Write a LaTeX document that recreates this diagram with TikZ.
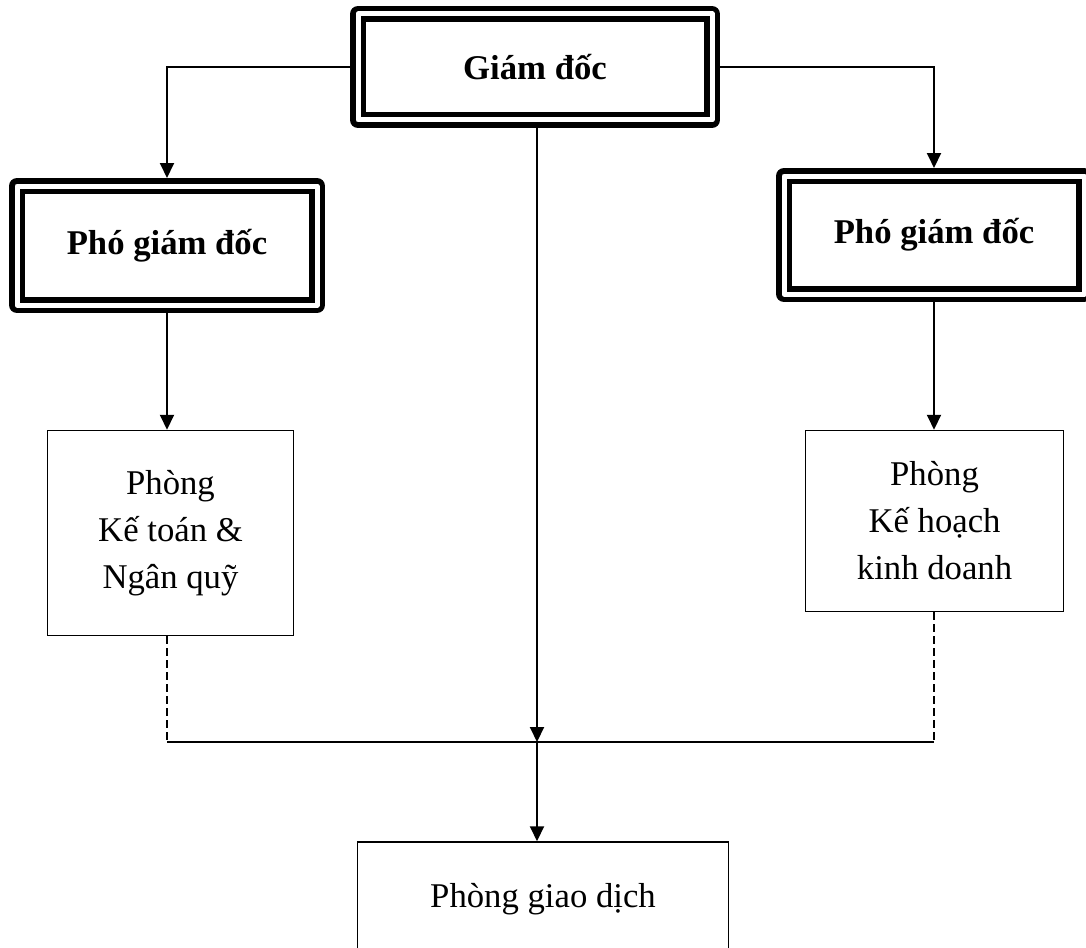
\documentclass[tikz,border=0pt]{standalone}
\usepackage{fontspec}
\setmainfont{Liberation Serif}
\usetikzlibrary{arrows.meta, positioning}

\begin{document}
\begin{tikzpicture}[x=1pt, y=-1pt, >={Triangle[length=15pt, width=14pt]}, line width=2pt, font=\fontsize{34.7}{47}\selectfont]
        \tikzstyle{chief} = [draw, double, double distance=5pt, line width=5.5pt, line join=round, outer sep=8pt, inner sep=0pt, font=\fontsize{34.7}{47}\selectfont\bfseries]
        \tikzstyle{block} = [draw, rectangle, line width=1.5pt, align=center, inner sep=0pt]
        \tikzstyle{link} = [dashed, line width=1.3pt, dash pattern=on 8pt off 4pt]

        \useasboundingbox (0,0) rectangle (1086,947);

        % Ban giam doc
        \node at (535,67) [chief, minimum width=354pt, minimum height=106pt] (gd) {Giám đốc};
        \node at (167,245.5) [chief, minimum width=300pt, minimum height=119pt] (pgd1) {Phó giám đốc};
        \node at (934,235) [chief, minimum width=300pt, minimum height=118pt] (pgd2) {Phó giám đốc};

        % Cac phong
        \node at (170.5,533) [block, minimum width=246pt, minimum height=205pt] (ketoan) {Phòng\\Kế toán \&\\Ngân quỹ};
        \node at (934.5,521) [block, minimum width=258pt, minimum height=181pt] (kehoach) {Phòng\\Kế hoạch\\kinh doanh};
        \node at (543,899) [block, minimum width=371pt, minimum height=114pt] (giaodich) {Phòng giao dịch};
        \node at (537,742) [coordinate] (noi) {}; % diem noi

        \draw[->] (gd.west) -| (pgd1.north);
        \draw[->] (gd.east) -| (pgd2.north);
        \draw[->] (pgd1.south) -- (pgd1.south |- ketoan.north);
        \draw[->] (pgd2.south) -- (pgd2.south |- kehoach.north);
        \draw[->] (gd.south -| noi) -- (noi);
        \draw[->] (noi) -- (noi |- giaodich.north);

        \draw[link] (ketoan.south -| pgd1.south) -- (noi -| pgd1.south);
        \draw[link] (kehoach.south -| pgd2.south) -- (noi -| pgd2.south);
        \draw[line width=1.5pt] (noi -| pgd1.south) -- (noi -| pgd2.south);

\end{tikzpicture}
\end{document}
